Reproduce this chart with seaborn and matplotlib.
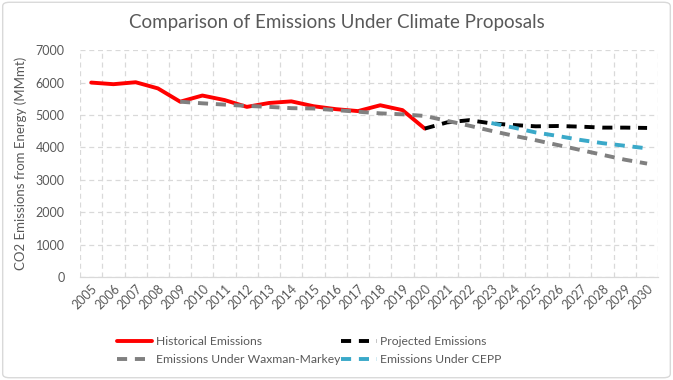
import matplotlib
matplotlib.use("Agg")
import matplotlib.pyplot as plt
import pandas as pd
import seaborn as sns
import numpy as np
from matplotlib.patches import FancyBboxPatch

# Werte
years = list(range(2005, 2031))

hist_years = list(range(2005, 2021))
hist_vals = [6000, 5950, 6010, 5820, 5410, 5600, 5460, 5250, 5370, 5420, 5270, 5180, 5120, 5300, 5150, 4580]

proj_years = list(range(2020, 2031))
proj_vals = [4580, 4770, 4840, 4740, 4690, 4650, 4660, 4640, 4610, 4610, 4600]

wm_years = list(range(2009, 2031))
wm_vals = [5410, 5360, 5320, 5280, 5250, 5210, 5200, 5150, 5100, 5050, 5020, 4970,
           4820, 4670, 4510, 4360, 4220, 4070, 3920, 3770, 3620, 3500]

cepp_years = list(range(2023, 2031))
cepp_vals = [4750, 4610, 4460, 4350, 4230, 4130, 4050, 3970]

names = ["Historical Emissions", "Projected Emissions", "Emissions Under Waxman-Markey", "Emissions Under CEPP"]
colors = ["#ff0000", "#000000", "#808080", "#3aa9c9"]

frames = []
for name, xs, ys in zip(names, [hist_years, proj_years, wm_years, cepp_years],
                        [hist_vals, proj_vals, wm_vals, cepp_vals]):
    frames.append(pd.DataFrame({"Year": xs, "Value": ys, "Series": name}))
df = pd.concat(frames, ignore_index=True)

sns.set_style("white")
plt.rcParams['font.family'] = ['Lato', 'DejaVu Sans']
grey_text = "#595959"

fig = plt.figure(figsize=(6.73, 3.8), dpi=100)
ax = fig.add_axes([0.119, 0.271, 0.859, 0.597])

dash = (2.6, 2.0)
sns.lineplot(data=df, x="Year", y="Value", hue="Series", style="Series",
             hue_order=names, style_order=names,
             palette=dict(zip(names, colors)),
             dashes={names[0]: "", names[1]: dash, names[2]: dash, names[3]: dash},
             linewidth=2.8, ax=ax, legend=False)

ax.set_xlim(2004.5, 2030.5)
ax.set_ylim(0, 7000)
ax.set_xticks(years)
ax.set_xticklabels([str(y) for y in years], rotation=45, ha="right", rotation_mode="anchor")
ax.set_xticks(np.arange(2004.5, 2031, 1), minor=True)
ax.set_yticks(range(0, 7001, 1000))
ax.tick_params(axis="both", which="both", length=0, labelsize=9, labelcolor=grey_text)
ax.tick_params(axis="x", pad=4)
ax.tick_params(axis="y", pad=11)
ax.grid(True, axis="y", which="major", color="#d9d9d9", linestyle=(0, (4, 3)), linewidth=0.9)
ax.grid(True, axis="x", which="minor", color="#d9d9d9", linestyle=(0, (4, 3)), linewidth=0.9)
ax.grid(False, axis="x", which="major")
ax.set_axisbelow(True)
for s in ["top", "right", "left"]:
    ax.spines[s].set_visible(False)
ax.spines["bottom"].set_color("#d9d9d9")
ax.spines["bottom"].set_linewidth(0.9)

ax.set_xlabel("")
ax.set_ylabel("CO2 Emissions from Energy (MMmt)", fontsize=9.5, color=grey_text, labelpad=6)

fig.text(0.5, 0.942, "Comparison of Emissions Under Climate Proposals", ha="center", va="center",
         fontsize=13.5, color=grey_text)

handles = []
for name, c in zip(names, colors):
    ls = "-" if name == names[0] else (0, dash)
    handles.append(plt.Line2D([], [], color=c, linewidth=2.8, linestyle=ls))
# Reihenfolge so, dass die Legende zeilenweise gefuellt wird
order = [0, 2, 1, 3]
fig.legend([handles[i] for i in order], [names[i] for i in order],
           loc="center left", bbox_to_anchor=(0.158, 0.078), ncol=2,
           frameon=False, fontsize=8.7, labelcolor=grey_text, handlelength=2.9,
           handletextpad=0.3, columnspacing=0.1, labelspacing=0.6)

fig.patches.append(FancyBboxPatch((0.004, 0.006), 0.992, 0.988, boxstyle="round,pad=0,rounding_size=0.01",
                                  transform=fig.transFigure, fill=False, edgecolor="#d9d9d9", linewidth=1))

fig.savefig("out.png", dpi=100)
